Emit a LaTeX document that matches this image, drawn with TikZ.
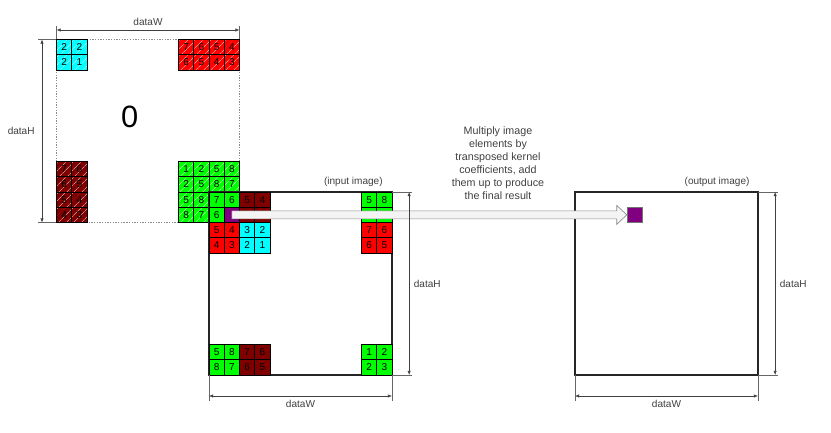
\documentclass[tikz,border=0pt]{standalone}
\usepackage{fontspec}
\setmainfont{Liberation Sans}
\usetikzlibrary{positioning, calc, patterns, patterns.meta, arrows.meta}

\definecolor{darkred}{HTML}{800000}
\definecolor{kpurple}{HTML}{800080}
\definecolor{kcyan}{HTML}{00FFFF}
\definecolor{kgreen}{HTML}{00FF00}
\definecolor{kred}{HTML}{FF0000}
\definecolor{lblgray}{HTML}{404040}

\tikzset{
	px/.style={draw=black, line width=0.5pt, minimum size=0.4cm, inner sep=0pt,
		outer sep=0pt, anchor=north west, font=\fontsize{7.5}{8}\selectfont},
	kcell/.style={px, preaction={fill=#1},
		pattern={Lines[angle=45,distance=4pt,line width=0.6pt]},
		pattern color=white!55!#1},
	icell/.style={px, fill=#1},
	imgbox/.style={draw=black!85, line width=1pt, minimum width=4.8cm,
		minimum height=4.8cm, inner sep=0pt, outer sep=0pt, anchor=north west},
	lbl/.style={font=\fontsize{7.5}{9}\selectfont, text=lblgray},
	ext/.style={draw=black!60, line width=0.4pt},
	dim/.style={draw=black!75, line width=0.4pt, {Latex[length=3pt,width=2.4pt]}-{Latex[length=3pt,width=2.4pt]}},
	fatarrow/.style={draw=black!45, line width=0.5pt, fill=blue!6!gray!8}
}

% block of cells: name, x, y, columns, style, digits
\newcommand{\cellblock}[6]{%
	\foreach \d [count=\i from 0] in {#6} {
		\pgfmathtruncatemacro{\bcol}{mod(\i,#4)}
		\pgfmathtruncatemacro{\brow}{div(\i,#4)}
		\node[#5] (#1-\i) at (#2+\bcol,#3-\brow) {\d};
	}%
}

\begin{document}
\begin{tikzpicture}[x=0.4cm, y=0.4cm]
	\useasboundingbox (-13.705,12.59) rectangle (40.787,-15.80);

	% kernel laid over the image
	\node[imgbox, draw=black!45, line width=0.5pt, dash pattern=on 1pt off 1pt]
		(kbox) at (-10,10) {};
	\node[font=\fontsize{23}{24}\selectfont] (zero) at (-5.2,4.9) {0};
	\cellblock{kc}{-10}{10}{2}{kcell=kcyan}{2,2,2,1}
	\cellblock{kr}{-2}{10}{4}{kcell=kred}{7,6,5,4,6,5,4,3}
	\cellblock{kd}{-10}{2}{2}{kcell=darkred}{7,6,6,5,5,4,4,3}
	\cellblock{kg}{-2}{2}{4}{kcell=kgreen}{1,2,5,8,2,5,8,7,5,8,7,6,8,7,6,{}}

	% input image
	\node[imgbox] (img) at (0,0) {};
	\cellblock{ig}{0}{0}{2}{icell=kgreen}{7,6,6,{}}
	\cellblock{id}{2}{0}{2}{icell=darkred}{5,4,4,3}
	\cellblock{ir}{0}{-2}{2}{icell=kred}{5,4,4,3}
	\cellblock{ic}{2}{-2}{2}{icell=kcyan}{3,2,2,1}
	\cellblock{itg}{10}{0}{2}{icell=kgreen}{5,8,8,7}
	\cellblock{itr}{10}{-2}{2}{icell=kred}{7,6,6,5}
	\cellblock{ibg}{0}{-10}{2}{icell=kgreen}{5,8,8,7}
	\cellblock{ibd}{2}{-10}{2}{icell=darkred}{7,6,6,5}
	\cellblock{ibr}{10}{-10}{2}{icell=kgreen}{1,2,2,3}
	\node[icell=kpurple] (kp) at (1,-1) {};
	\node[lbl, above left=0.02cm and 0.12cm of img.north east] (inlbl) {(input image)};

	% output image
	\node[imgbox] (out) at (24,0) {};
	\node[lbl, above left=0.02cm and 0.1cm of out.north east] (outlbl) {(output image)};
	\node[lbl, font=\fontsize{8}{9.6}\selectfont, align=center] (note) at (18.95,1.9)
		{Multiply image\\elements by\\transposed kernel\\coefficients, add\\them up to produce\\the final result};

	% arrow from kernel centre to output element
	\node[icell=kpurple, draw=black!55] (op) at (27.4,-1) {};
	\draw[fatarrow] let \p1=(kp.center), \p2=(op.west) in
		(\x1,\y2+3pt) -- (\x2-7.5pt,\y2+3pt) -- (\x2-7.5pt,\y2+7pt) -- (\p2)
		-- (\x2-7.5pt,\y2-7pt) -- (\x2-7.5pt,\y2-3pt) -- (\x1,\y2-3pt) -- cycle;
	\node[icell=kpurple, draw=black!55] at (op.north west) {};

	% dimensions of the kernel box
	\draw[ext] (kbox.north west) -- ([yshift=0.36cm]kbox.north west);
	\draw[ext] (kbox.north east) -- ([yshift=0.36cm]kbox.north east);
	\draw[dim] ([yshift=0.25cm]kbox.north west) -- node[lbl, above] {dataW} ([yshift=0.25cm]kbox.north east);
	\draw[ext] (kbox.north west) -- ([xshift=-0.48cm]kbox.north west);
	\draw[ext] (kbox.south west) -- ([xshift=-0.48cm]kbox.south west);
	\draw[dim] ([xshift=-0.38cm]kbox.north west) -- node[lbl, left, xshift=-2pt] {dataH} ([xshift=-0.38cm]kbox.south west);

	% dimensions of the input image
	\draw[ext] (img.north east) -- ([xshift=0.53cm]img.north east);
	\draw[ext] (img.south east) -- ([xshift=0.53cm]img.south east);
	\draw[dim] ([xshift=0.45cm]img.north east) -- node[lbl, right] {dataH} ([xshift=0.45cm]img.south east);
	\draw[ext] (img.south west) -- ([yshift=-0.68cm]img.south west);
	\draw[ext] (img.south east) -- ([yshift=-0.68cm]img.south east);
	\draw[dim] ([yshift=-0.55cm]img.south west) -- node[lbl, below] {dataW} ([yshift=-0.55cm]img.south east);

	% dimensions of the output image
	\draw[ext] (out.north east) -- ([xshift=0.53cm]out.north east);
	\draw[ext] (out.south east) -- ([xshift=0.53cm]out.south east);
	\draw[dim] ([xshift=0.45cm]out.north east) -- node[lbl, right] {dataH} ([xshift=0.45cm]out.south east);
	\draw[ext] (out.south west) -- ([yshift=-0.68cm]out.south west);
	\draw[ext] (out.south east) -- ([yshift=-0.68cm]out.south east);
	\draw[dim] ([yshift=-0.55cm]out.south west) -- node[lbl, below] {dataW} ([yshift=-0.55cm]out.south east);
\end{tikzpicture}
\end{document}
